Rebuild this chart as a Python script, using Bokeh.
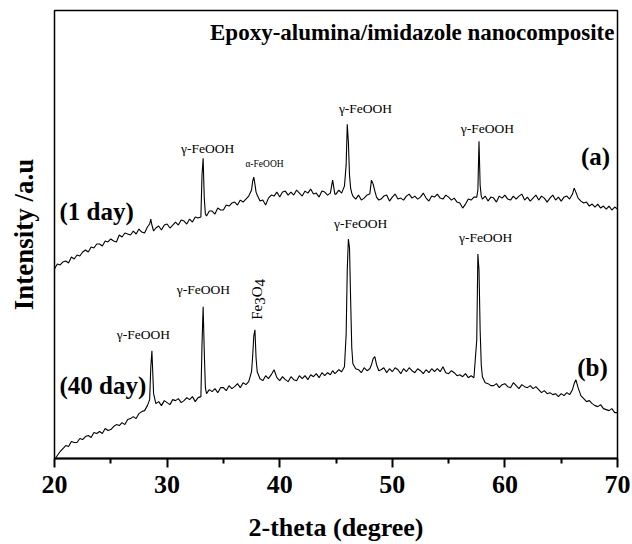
import math
from bokeh.plotting import figure
from bokeh.models import Range1d, FixedTicker, Label
from bokeh.embed import file_html
from bokeh.resources import INLINE

# 2-theta grid (degree)
two_theta = [
    20.0, 20.25, 20.5, 20.75,
    21.0, 21.25, 21.5, 21.75,
    22.0, 22.25, 22.5, 22.75,
    23.0, 23.25, 23.5, 23.75,
    24.0, 24.25, 24.5, 24.75,
    25.0, 25.25, 25.5, 25.75,
    26.0, 26.25, 26.5, 26.75,
    27.0, 27.25, 27.5, 27.75,
    28.0, 28.25, 28.45, 28.55, 28.65, 28.8,
    29.0, 29.25, 29.5, 29.75,
    30.0, 30.25, 30.5, 30.75,
    31.0, 31.25, 31.5, 31.75,
    32.0, 32.25, 32.5, 32.75,
    33.0, 33.1, 33.2, 33.3, 33.4, 33.5, 33.75,
    34.0, 34.25, 34.5, 34.75,
    35.0, 35.25, 35.5, 35.75,
    36.0, 36.25, 36.5, 36.75,
    37.0, 37.25, 37.5, 37.6, 37.7, 37.8, 37.9,
    38.0, 38.25, 38.5, 38.75,
    39.0, 39.25, 39.5, 39.75,
    40.0, 40.25, 40.5, 40.75,
    41.0, 41.25, 41.5, 41.75,
    42.0, 42.25, 42.5, 42.75,
    43.0, 43.25, 43.5, 43.75,
    44.0, 44.25, 44.5, 44.7, 44.9,
    45.0, 45.25, 45.5, 45.75, 45.9,
    46.0, 46.1, 46.2, 46.3, 46.4, 46.5, 46.75,
    47.0, 47.25, 47.5, 47.75,
    48.0, 48.15, 48.3, 48.45, 48.6, 48.8,
    49.0, 49.25, 49.5, 49.75,
    50.0, 50.25, 50.5, 50.75,
    51.0, 51.25, 51.5, 51.75,
    52.0, 52.25, 52.5, 52.75,
    53.0, 53.25, 53.5, 53.75,
    54.0, 54.25, 54.5, 54.75,
    55.0, 55.25, 55.5, 55.75,
    56.0, 56.25, 56.5, 56.75,
    57.0, 57.25, 57.5, 57.6, 57.7, 57.8, 57.9,
    58.0, 58.25, 58.5, 58.75,
    59.0, 59.25, 59.5, 59.75,
    60.0, 60.25, 60.5, 60.75,
    61.0, 61.25, 61.5, 61.75,
    62.0, 62.25, 62.5, 62.75,
    63.0, 63.25, 63.5, 63.75,
    64.0, 64.25, 64.5, 64.75,
    65.0, 65.25, 65.5, 65.75,
    66.0, 66.15, 66.3, 66.5, 66.75,
    67.0, 67.25, 67.5, 67.75,
    68.0, 68.25, 68.5, 68.75,
    69.0, 69.25, 69.5, 69.75,
    70.0,
]

# (a) 1 day  (intensity, a.u., stacked)
intensity_1day = [
    191, 196, 195, 198,
    199, 197, 203, 201,
    205, 204, 208, 210,
    208, 213, 212, 216,
    216, 214, 219, 218,
    221, 219, 218, 225,
    223, 227, 226, 225,
    229, 226, 231, 228,
    227, 233, 236, 241, 235, 229,
    232, 234, 230, 235,
    236, 232, 235, 238,
    235, 240, 239, 236,
    241, 238, 243, 242,
    243, 285, 302, 262, 246, 244, 249,
    249, 246, 252, 250,
    250, 255, 254, 257,
    258, 255, 260, 258,
    261, 264, 270, 279, 283, 276, 268,
    265, 259, 260, 255,
    262, 265, 264, 268,
    263, 268, 269, 265,
    268, 265, 270, 267,
    264, 269, 267, 271,
    266, 267, 263, 269,
    268, 265, 267, 280, 266,
    266, 270, 267, 274, 295,
    336, 318, 285, 272, 267, 264, 261,
    265, 260, 262, 265,
    266, 280, 276, 269, 263, 260,
    261, 264, 265, 259,
    263, 266, 261, 262,
    260, 264, 266, 262,
    264, 261, 263, 267,
    262, 259, 264, 263,
    266, 262, 261, 265,
    263, 260, 262, 258,
    257, 252, 256, 261,
    260, 263, 263, 270, 319, 275, 264,
    261, 264, 259, 263,
    262, 258, 264, 262,
    265, 261, 260, 264,
    261, 264, 266, 260,
    263, 259, 262, 265,
    260, 264, 262, 258,
    262, 265, 260, 263,
    259, 263, 264, 261,
    266, 272, 268, 262, 259,
    257, 258, 254, 256,
    253, 256, 252, 254,
    251, 254, 250, 253,
    251,
]

# (b) 40 day
intensity_40day = [
    0, 4, 8, 11,
    14, 13, 18, 17,
    17, 21, 20, 23,
    24, 22, 27, 26,
    28, 26, 31, 29,
    30, 33, 35, 34,
    37, 35, 40, 41,
    43, 41, 46, 48,
    49, 54, 60, 92, 109, 66,
    56, 58, 54, 59,
    57, 55, 60, 59,
    61, 57, 59, 62,
    60, 63, 58, 62,
    63, 115, 153, 108, 72, 66, 70,
    68, 71, 67, 72,
    72, 69, 74, 71,
    73, 76, 72, 77,
    75, 78, 88, 104, 124, 130, 102,
    88, 81, 79, 84,
    81, 85, 90, 82,
    79, 83, 80, 78,
    83, 80, 79, 84,
    81, 84, 80, 85,
    83, 86, 82, 87,
    84, 87, 85, 89, 86,
    87, 90, 88, 93, 125,
    190, 221, 212, 160, 112, 96, 91,
    90, 87, 92, 89,
    91, 95, 101, 103, 95, 89,
    90, 92, 87, 91,
    88, 92, 90, 86,
    91, 88, 92, 89,
    87, 91, 89, 86,
    90, 87, 91, 88,
    91, 88, 93, 87,
    86, 89, 87, 84,
    85, 83, 86, 82,
    84, 82, 120, 206, 190, 130, 95,
    83, 77, 76, 74,
    74, 76, 72, 75,
    76, 73, 72, 77,
    74, 71, 75, 73,
    72, 74, 71, 73,
    70, 67, 69, 66,
    67, 65, 66, 63,
    66, 64, 67, 65,
    70, 76, 80, 72, 64,
    61, 58, 59, 56,
    54, 53, 55, 51,
    50, 49, 51, 47,
    47,
]

x_ticks = [20, 30, 40, 50, 60, 70]
x_minor_ticks = [25, 35, 45, 55, 65]

FONT = "Liberation Serif"

p = figure(width=632, height=544, output_backend="svg", toolbar_location=None,
           x_range=Range1d(20, 70), y_range=Range1d(1, 450),
           min_border_left=54, min_border_right=15, min_border_top=10,
           min_border_bottom=85)
p.background_fill_color = "white"
p.border_fill_color = "white"
p.xgrid.visible = False
p.ygrid.visible = False
p.outline_line_color = "black"
p.outline_line_width = 1.5
p.outline_line_alpha = 1.0

xa = p.xaxis[0]
xa.ticker = FixedTicker(ticks=x_ticks, minor_ticks=x_minor_ticks)
xa.axis_line_width = 2
xa.axis_line_color = "black"
xa.major_tick_out = 9
xa.major_tick_in = 0
xa.minor_tick_out = 5
xa.minor_tick_in = 0
xa.major_tick_line_width = 2
xa.minor_tick_line_width = 2
xa.major_tick_line_color = "black"
xa.minor_tick_line_color = "black"
xa.major_label_text_font = FONT
xa.major_label_text_font_size = "26px"
xa.major_label_text_font_style = "bold"
xa.major_label_text_color = "black"
xa.major_label_standoff = 8
xa.axis_label = "2-theta (degree)"
xa.axis_label_text_font = FONT
xa.axis_label_text_font_size = "26px"
xa.axis_label_text_font_style = "bold"
xa.axis_label_text_color = "black"
xa.axis_label_standoff = 17

ya = p.yaxis[0]
ya.ticker = FixedTicker(ticks=[])
ya.axis_line_color = None
ya.major_tick_out = 0
ya.major_tick_in = 0
ya.minor_tick_out = 0
ya.minor_tick_in = 0
ya.axis_label = "Intensity /a.u"
ya.axis_label_text_font = FONT
ya.axis_label_text_font_size = "27px"
ya.axis_label_text_font_style = "bold"
ya.axis_label_text_color = "black"
ya.axis_label_standoff = 16

p.line(two_theta, intensity_1day, line_color="black", line_width=1.1)
p.line(two_theta, intensity_40day, line_color="black", line_width=1.1)


def lab(x, y, text, size, bold=False, align="center", angle=0.0):
    p.add_layout(Label(x=x, y=y, text=text, text_font=FONT, text_font_size=size,
                       text_font_style="bold" if bold else "normal",
                       text_align=align, text_baseline="middle",
                       text_color="black", angle=angle))


lab(69.73, 428, "Epoxy-alumina/imidazole nanocomposite", "23px", True, "right")
lab(20.44, 249, "(1 day)", "25px", True, "left")
lab(20.44, 74, "(40 day)", "25px", True, "left")
lab(68.05, 304, "(a)", "25px", True)
lab(67.78, 92, "(b)", "25px", True)

# peak labels, curve (a)
lab(33.59, 312, "γ-FeOOH", "13.5px")
lab(38.65, 296, "α-FeOOH", "9.5px")
lab(47.62, 352, "γ-FeOOH", "13.5px")
lab(58.45, 332, "γ-FeOOH", "13.5px")
# peak labels, curve (b)
lab(27.90, 125, "γ-FeOOH", "13.5px")
lab(33.23, 170, "γ-FeOOH", "13.5px")
lab(47.18, 237, "γ-FeOOH", "13.5px")
lab(58.28, 222, "γ-FeOOH", "13.5px")
# Fe3O4 (rotated, with lowered digits)
lab(37.94, 140, "Fe", "15px", False, "left", math.pi / 2)
lab(38.29, 155, "3", "15px", False, "left", math.pi / 2)
lab(37.94, 162.5, "O", "15px", False, "left", math.pi / 2)
lab(38.29, 173.3, "4", "15px", False, "left", math.pi / 2)

open("out.html", "w").write(file_html(p, INLINE))
